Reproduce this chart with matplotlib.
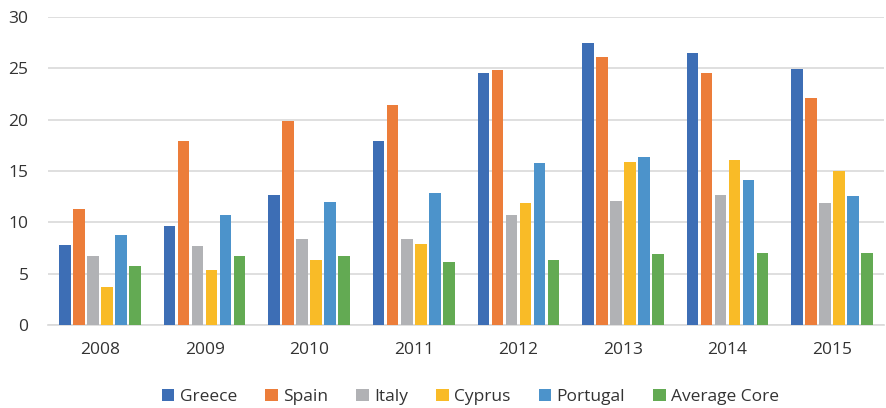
import matplotlib
matplotlib.use("Agg")
import matplotlib.pyplot as plt
import numpy as np

years = ["2008", "2009", "2010", "2011", "2012", "2013", "2014", "2015"]
countries = ["Greece", "Spain", "Italy", "Cyprus", "Portugal", "Average Core"]
greece = [7.8, 9.6, 12.7, 17.9, 24.5, 27.5, 26.5, 24.9]
spain = [11.3, 17.9, 19.9, 21.4, 24.8, 26.1, 24.5, 22.1]
italy = [6.7, 7.7, 8.4, 8.4, 10.7, 12.1, 12.7, 11.9]
cyprus = [3.7, 5.4, 6.3, 7.9, 11.9, 15.9, 16.1, 15.0]
portugal = [8.8, 10.7, 12.0, 12.9, 15.8, 16.4, 14.1, 12.6]
avg_core = [5.7, 6.7, 6.7, 6.1, 6.3, 6.9, 7.0, 7.0]
colors = ["#3D6EB5", "#EC7D3A", "#B1B2B5", "#F9BB27", "#4C93CB", "#63AA53"]

plt.rcParams['font.family'] = ['Open Sans', 'DejaVu Sans']

fig = plt.figure(figsize=(8.86, 4.08), dpi=100)
ax = fig.add_axes([0.054, 0.2034, 0.944, 0.755])

series = [greece, spain, italy, cyprus, portugal, avg_core]
x = np.arange(len(years))
step = 0.134
for i, (vals, name, c) in enumerate(zip(series, countries, colors)):
    ax.bar(x + (i - 2.5) * step, vals, width=0.11, color=c, label=name, zorder=3)

ax.set_xlim(-0.5, len(years) - 0.5)
ax.set_ylim(0, 30)
ax.set_yticks(range(0, 31, 5))
ax.set_xticks(x)
ax.set_xticklabels(years)
ax.tick_params(length=0, labelsize=12.5, colors="#333333")
ax.tick_params(axis="x", pad=12)
ax.tick_params(axis="y", pad=14)
ax.grid(axis="y", color="#D9D9D9", linewidth=1.2, zorder=0)
for s in ["top", "right", "left"]:
    ax.spines[s].set_visible(False)
ax.spines["bottom"].set_color("#D9D9D9")
ax.spines["bottom"].set_linewidth(1.2)

fig.legend(loc="center", bbox_to_anchor=(0.531, 0.027), ncol=6, frameon=False,
           handlelength=0.7, handleheight=0.7, handletextpad=0.3, columnspacing=1.65,
           fontsize=12.5, labelcolor="#333333")

fig.savefig("out.png", dpi=100)
